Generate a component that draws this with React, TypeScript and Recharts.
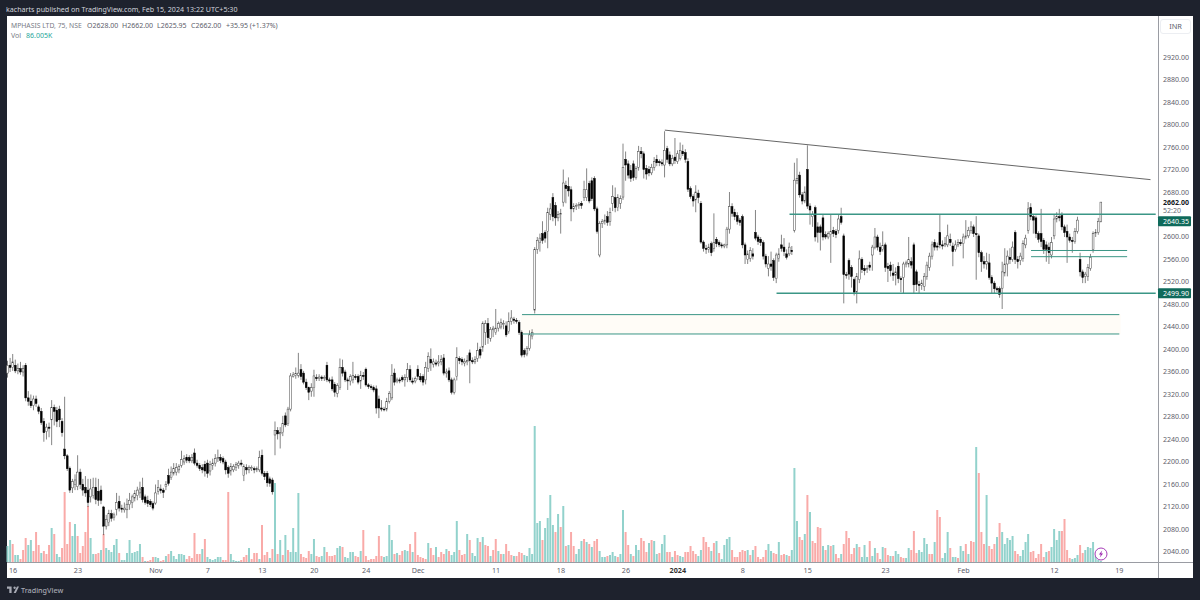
/**
 * App.tsx — MPHASIS 75 min candles with volume, drawn with a recharts ComposedChart.
 */
import { Bar, Cell, ComposedChart, ReferenceArea, ReferenceLine, XAxis, YAxis } from "recharts";

const opens = [
  2358,2372,2368,2372,2362,2366,2360,2372,2314,2308,2300,2312,2298,2290,2272,2254,2262,2275,2297,2292,
  2294,2272,2223,2211,2189,2154,2160,2156,2182,2160,2155,2150,2138,2140,2155,2148,2150,2120,2086,2092,
  2108,2102,2116,2130,2118,2115,2115,2124,2128,2136,2140,2145,2155,2138,2132,2130,2126,2127,2148,2152,
  2150,2156,2176,2172,2180,2182,2186,2194,2200,2208,2208,2202,2216,2198,2194,2190,2196,2198,2184,2194,
  2198,2206,2208,2206,2200,2190,2184,2186,2190,2194,2198,2176,2190,2186,2188,2188,2186,2186,2212,2180,
  2180,2170,2168,2248,2256,2250,2252,2282,2268,2294,2352,2354,2354,2364,2358,2342,2332,2326,2332,2350,
  2348,2351,2348,2372,2346,2346,2338,2322,2332,2368,2360,2346,2344,2346,2352,2352,2344,2354,2365,2337,
  2334,2332,2330,2312,2296,2294,2294,2308,2314,2358,2344,2346,2350,2346,2350,2364,2344,2344,2365,2352,
  2352,2346,2366,2382,2374,2376,2376,2378,2385,2358,2362,2346,2324,2352,2384,2382,2376,2378,2394,2380,
  2378,2384,2400,2404,2430,2446,2420,2435,2430,2438,2440,2444,2442,2432,2450,2454,2452,2448,2430,2398,
  2392,2402,2424,2470,2578,2590,2606,2608,2610,2640,2670,2656,2634,2640,2662,2692,2690,2684,2650,2654,
  2656,2660,2670,2670,2695,2700,2704,2650,2568,2624,2628,2636,2628,2660,2670,2652,2660,2671,2738,2730,
  2718,2730,2706,2724,2752,2748,2722,2720,2714,2724,2738,2734,2732,2728,2757,2746,2730,2742,2734,2740,
  2752,2750,2734,2686,2672,2666,2678,2660,2591,2580,2578,2588,2580,2596,2590,2586,2584,2586,2614,2654,2644,
  2638,2630,2636,2586,2560,2562,2570,2608,2600,2596,2590,2566,2544,2552,2558,2526,2562,2586,2582,2570,
  2570,2576,2612,2700,2710,2675,2664,2720,2655,2636,2652,2618,2618,2634,2604,2600,2604,2612,2610,
  2612,2636,2602,2533,2558,2546,2524,2502,2524,2560,2544,2542,2550,2568,2582,2600,2582,2578,2586,2548,
  2550,2536,2532,2548,2526,2528,2552,2552,2556,2586,2538,2516,2514,2512,2530,2546,2566,2590,2584,2608,2586,
  2586,2586,2596,2584,2578,2586,2590,2588,2600,2602,2612,2618,2606,2602,2572,2556,2552,2554,2528,2518,
  2508,2508,2509,2536,2552,2564,2560,2608,2560,2558,2562,2586,2612,2652,2636,2634,2606,2606,2594,2586,
  2582,2568,2602,2632,2636,2638,2618,2610,2600,2594,2592,2610,2560,2538,2530,2530,2544,2578,2606,2608,2628,
];

const highs = [
  2380,2385,2392,2382,2375,2378,2372,2376,2326,2320,2318,2318,2302,2296,2278,2268,2270,2310,2302,2298,
  2300,2278,2316,2214,2192,2170,2178,2212,2188,2170,2175,2170,2170,2172,2172,2170,2158,2122,2106,2115,
  2115,2110,2145,2140,2124,2128,2135,2145,2142,2150,2156,2165,2172,2142,2140,2134,2130,2160,2168,2160,
  2154,2166,2188,2192,2198,2198,2196,2220,2212,2214,2212,2214,2224,2204,2198,2196,2202,2204,2202,2206,
  2214,2222,2214,2210,2204,2194,2198,2196,2200,2202,2204,2196,2196,2194,2194,2192,2192,2220,2222,2184,
  2184,2174,2172,2272,2262,2262,2282,2288,2298,2358,2360,2368,2394,2374,2362,2348,2334,2340,2364,2356,
  2356,2354,2354,2378,2350,2352,2342,2340,2384,2382,2364,2350,2356,2378,2356,2356,2362,2360,2368,2340,
  2338,2336,2336,2318,2310,2298,2314,2326,2374,2366,2350,2350,2354,2356,2376,2372,2350,2352,2372,2358,
  2356,2378,2395,2402,2384,2382,2390,2390,2392,2366,2368,2350,2350,2404,2388,2386,2384,2390,2400,2386,
  2388,2412,2405,2450,2452,2456,2440,2442,2472,2450,2455,2452,2450,2466,2470,2458,2456,2452,2434,2402,
  2406,2434,2436,2582,2600,2606,2628,2612,2652,2660,2678,2662,2646,2650,2720,2700,2706,2690,2660,2660,
  2662,2664,2700,2722,2700,2706,2708,2654,2628,2632,2640,2646,2652,2692,2688,2676,2674,2766,2752,2736,
  2728,2736,2726,2762,2760,2752,2728,2726,2730,2742,2746,2738,2738,2788,2762,2752,2746,2776,2754,2768,
  2764,2756,2740,2690,2676,2692,2684,2664,2594,2586,2588,2592,2642,2600,2594,2590,2588,2618,2680,2660,2650,
  2644,2634,2640,2590,2576,2582,2580,2648,2604,2600,2594,2570,2566,2574,2562,2572,2580,2604,2598,2578,
  2590,2584,2732,2740,2716,2680,2690,2763,2660,2646,2656,2626,2622,2640,2610,2610,2640,2618,2614,
  2640,2652,2606,2538,2562,2550,2528,2536,2576,2564,2550,2550,2556,2586,2616,2604,2590,2610,2590,2554,
  2556,2552,2546,2555,2530,2556,2558,2600,2564,2590,2542,2522,2524,2536,2556,2572,2592,2596,2590,2639,2594,
  2600,2622,2606,2590,2594,2596,2596,2606,2630,2618,2628,2622,2637,2606,2576,2566,2572,2570,2532,2522,
  2512,2512,2556,2580,2576,2580,2592,2612,2566,2572,2594,2604,2662,2660,2640,2638,2610,2650,2598,2592,
  2590,2600,2640,2644,2650,2644,2622,2622,2606,2600,2616,2636,2572,2542,2538,2552,2570,2610,2614,2634,2662,
];

const lows = [
  2350,2360,2362,2358,2356,2355,2352,2308,2300,2296,2292,2298,2285,2266,2236,2240,2244,2230,2265,2262,
  2262,2245,2205,2184,2145,2145,2150,2150,2152,2140,2138,2120,2128,2135,2125,2122,2125,2070,2080,2086,
  2094,2096,2105,2112,2110,2110,2100,2115,2118,2130,2132,2136,2128,2124,2120,2120,2114,2124,2142,2144,
  2136,2150,2158,2168,2176,2176,2180,2190,2195,2198,2198,2198,2194,2190,2184,2180,2174,2172,2176,2186,
  2192,2200,2198,2196,2178,2172,2176,2182,2184,2188,2192,2166,2178,2180,2184,2180,2182,2182,2176,2168,
  2156,2156,2142,2212,2240,2224,2246,2262,2264,2290,2350,2348,2350,2346,2338,2328,2310,2316,2316,2344,
  2344,2344,2344,2342,2340,2326,2316,2315,2328,2352,2342,2328,2336,2340,2346,2338,2330,2346,2334,2330,
  2328,2324,2286,2278,2290,2290,2290,2304,2310,2336,2340,2340,2342,2334,2342,2342,2338,2340,2346,2342,
  2336,2338,2360,2362,2368,2370,2370,2372,2354,2350,2342,2320,2320,2345,2374,2372,2370,2372,2340,2374,
  2374,2378,2384,2396,2408,2410,2414,2422,2426,2432,2436,2436,2422,2428,2444,2446,2446,2426,2386,2386,
  2388,2398,2418,2464,2570,2574,2588,2590,2580,2630,2628,2620,2628,2606,2654,2660,2672,2628,2644,2648,
  2650,2650,2664,2664,2660,2664,2646,2606,2564,2616,2622,2620,2620,2646,2644,2646,2650,2666,2700,2704,
  2698,2700,2702,2718,2740,2704,2702,2708,2710,2718,2726,2726,2726,2706,2732,2726,2726,2730,2730,2736,
  2744,2732,2680,2668,2654,2644,2660,2588,2574,2570,2572,2566,2574,2582,2582,2580,2580,2580,2606,2636,2630,
  2622,2620,2580,2552,2552,2556,2560,2594,2586,2584,2560,2546,2530,2540,2522,2518,2556,2574,2566,2560,
  2566,2568,2608,2694,2670,2658,2660,2650,2622,2618,2592,2590,2576,2594,2596,2596,2554,2600,2598,
  2606,2622,2482,2526,2524,2510,2496,2482,2518,2536,2532,2536,2540,2540,2578,2576,2568,2574,2538,2520,
  2530,2522,2514,2518,2502,2500,2546,2546,2544,2500,2504,2500,2506,2504,2524,2540,2560,2576,2576,2580,2578,
  2582,2582,2584,2548,2574,2582,2584,2562,2596,2598,2606,2600,2524,2564,2538,2544,2542,2524,2500,2500,
  2502,2492,2472,2530,2530,2552,2556,2552,2544,2550,2556,2580,2606,2630,2606,2598,2590,2582,2570,2556,
  2552,2562,2596,2626,2628,2612,2600,2554,2590,2572,2588,2606,2530,2518,2518,2522,2540,2572,2600,2604,2625.95,
];

const closes = [
  2372,2368,2378,2362,2366,2360,2366,2314,2308,2300,2312,2304,2290,2270,2252,2262,2260,2297,2290,2272,
  2275,2252,2211,2188,2150,2165,2168,2182,2160,2150,2145,2128,2152,2155,2133,2132,2132,2086,2098,2108,
  2100,2106,2128,2118,2116,2118,2125,2132,2138,2144,2150,2152,2133,2128,2126,2124,2118,2145,2155,2149,
  2146,2160,2162,2182,2188,2190,2192,2204,2206,2203,2202,2208,2198,2194,2188,2186,2184,2180,2196,2198,
  2206,2208,2203,2200,2186,2180,2192,2192,2196,2198,2196,2192,2186,2190,2190,2186,2188,2208,2180,2174,
  2163,2162,2147,2256,2250,2252,2268,2266,2294,2353,2355,2357,2358,2352,2342,2332,2324,2332,2353,2348,
  2351,2348,2350,2346,2344,2330,2324,2336,2368,2358,2346,2344,2352,2354,2350,2342,2354,2352,2337,2334,
  2332,2328,2296,2296,2294,2293,2308,2322,2354,2342,2346,2344,2346,2350,2364,2346,2342,2348,2352,2346,
  2342,2368,2388,2376,2378,2374,2378,2382,2358,2360,2346,2324,2346,2386,2380,2378,2379,2380,2380,2378,
  2382,2398,2390,2446,2446,2421,2436,2438,2438,2446,2448,2446,2426,2450,2456,2452,2450,2430,2390,2391,
  2402,2426,2430,2578,2594,2598,2594,2598,2644,2650,2636,2634,2640,2642,2696,2686,2682,2650,2654,2656,
  2658,2656,2684,2684,2664,2668,2650,2610,2624,2628,2630,2626,2644,2672,2652,2670,2668,2724,2728,2710,
  2704,2706,2722,2752,2748,2720,2712,2714,2724,2734,2732,2732,2730,2754,2738,2730,2740,2736,2748,2754,
  2748,2738,2685,2672,2664,2680,2670,2591,2580,2578,2582,2572,2590,2588,2586,2584,2586,2614,2654,2642,2636,
  2628,2626,2586,2568,2570,2576,2566,2598,2592,2590,2566,2552,2552,2548,2528,2568,2570,2580,2574,2564,
  2582,2574,2701,2704,2675,2664,2680,2655,2648,2640,2600,2608,2608,2600,2600,2606,2610,2606,2604,
  2632,2626,2533,2532,2534,2530,2502,2530,2561,2542,2540,2544,2546,2582,2600,2582,2574,2585,2546,2544,
  2540,2532,2538,2526,2524,2552,2554,2560,2550,2515,2516,2514,2518,2530,2550,2566,2586,2582,2582,2586,2584,
  2588,2602,2590,2574,2586,2590,2588,2600,2602,2612,2618,2606,2604,2572,2556,2552,2556,2528,2518,2508,
  2506,2498,2538,2552,2566,2560,2582,2560,2556,2566,2588,2598,2650,2636,2630,2606,2596,2592,2578,2578,
  2572,2590,2632,2636,2634,2618,2608,2600,2594,2592,2610,2630,2538,2528,2534,2546,2564,2606,2608,2628,2662,
];

// volume in tens of thousands, g / r = the bar's colour in the picture
const volumes = [
  16,22,18,7,7,3,12,24,17,22,11,30,17,9,11,8,17,34,28,8,
  5,14,70,18,40,26,38,26,9,16,30,56,24,8,8,9,12,28,14,12,
  10,17,23,9,2,2,9,22,9,10,11,18,5,1,1,2,5,5,4,1,
  2,6,8,11,6,3,8,8,7,3,6,4,29,8,8,13,23,5,3,2,
  3,5,5,2,2,70,8,2,1,1,2,5,7,14,3,9,9,3,37,7,
  10,4,13,79,8,22,7,27,12,10,34,10,69,8,5,4,11,8,23,6,
  5,6,15,10,6,6,7,14,16,15,5,4,10,10,6,5,11,32,6,2,
  3,3,6,26,6,5,6,37,22,8,9,7,11,12,11,18,10,30,7,5,
  4,3,19,14,7,15,5,10,8,13,11,7,10,41,12,7,8,28,22,9,
  6,24,20,25,17,16,6,12,23,11,8,8,18,11,7,6,6,10,9,7,
  6,14,8,136,39,41,22,34,44,67,37,30,48,35,56,16,17,30,16,8,
  13,21,23,20,18,15,21,23,11,5,5,6,7,10,6,5,8,52,30,17,
  8,6,17,12,24,21,10,19,22,21,8,9,18,27,10,10,5,11,7,6,
  5,10,10,16,11,8,6,12,25,20,15,11,19,21,9,3,17,23,25,12,
  5,5,10,12,11,12,7,12,16,5,3,5,12,18,11,9,8,20,7,8,
  7,6,12,94,41,25,22,28,67,50,21,19,35,34,16,12,17,16,17,8,
  4,8,18,31,24,8,14,18,15,5,17,5,21,6,14,9,3,15,14,7,
  6,6,11,8,5,4,4,14,12,31,9,12,10,24,18,8,8,20,52,45,
  4,9,30,14,5,5,4,16,11,18,8,21,20,115,89,30,18,67,16,13,
  18,25,39,30,18,24,22,26,11,8,6,12,20,28,10,11,4,8,18,5,
  10,11,15,33,22,31,31,43,12,4,3,4,7,17,9,12,15,14,20,6,
  2,1,
];

const volumeSides =
  "ggrggrrrggrrrgrrrgrg" + "grrrrggrrrrrggrrgrgg" + "gggrggggggggrgrrrggr" + "rgrggggggrrrrrrgrggg" +
  "gggrrrggggrrrgrrrgrr" + "rgrgrgrgrggggrrrrggr" + "rggrrrrggrggggrrgrrr" + "rrrrrggggrgrrggrgrrr" +
  "rrgrrgrrrgrgggrrrgrg" + "ggrgrrgrrgrgrrrgrrrg" + "ggggggrggggrgrgrgrrg" + "ggrgrgrrgggrgggrggrr" +
  "grggrrrgrggrggrrgrrg" + "grrrrrggrrrgrgrggggr" + "rrrrrgrgrrrrrggrrgrr" + "grgggrrgrgrrrrgrgrgr" +
  "rgrrrrrgrgggrggrrgrr" + "grggrrggrrrggggrrgrr" + "gggrggrggrgrrgrrrgrr" + "rgrgggggrrggggrrrrrr" +
  "grggggrrrrgggrrggggg" + "gg";

const xTickIndexes = [2, 27, 57, 77, 98, 118, 138, 158, 188, 213, 238, 258, 283, 308, 338, 368, 403, 428];
const xTickLabels = ["16", "23", "Nov", "7", "13", "20", "24", "Dec", "11", "18", "26", "2024", "8", "15", "23", "Feb", "12", "19"];

const priceTicks = [
  2920, 2880, 2840, 2800, 2760, 2720, 2680, 2662, 2640.35, 2600, 2560, 2520, 2499.9, 2480, 2440, 2400,
  2360, 2320, 2280, 2240, 2200, 2160, 2120, 2080, 2040,
];

const legendValues = ["O2628.00", "H2662.00", "L2625.95", "C2662.00", "+35.95 (+1.37%)"];
const legendLefts = [87, 122, 157, 191, 226];

const SLOTS = 443; // bars plus the empty space right of the last one
const UP_VOL = "#92d2cc";
const DOWN_VOL = "#f9aaa8";
const LINE_GREEN = "#3b9686";
const TAG_GREEN = "#0f6a5b";
const FONT = '"Noto Sans", sans-serif';

const rows = Array.from({ length: SLOTS }, (_, i) => ({
  idx: i,
  range: i < opens.length ? [lows[i], highs[i]] : null,
  open: opens[i],
  close: closes[i],
  high: highs[i],
  low: lows[i],
  volume: i < volumes.length ? volumes[i] : null,
}));

function Candle(props: any) {
  const { x, y, width, height, payload } = props;
  if (payload?.range == null) return null;
  const top = Math.min(y, y + height);
  const span = Math.abs(height);
  const unit = span / Math.max(payload.high - payload.low, 0.01);
  const cx = x + width / 2;
  const up = payload.close >= payload.open;
  const bodyTop = top + (payload.high - Math.max(payload.open, payload.close)) * unit;
  const bodyH = Math.max(Math.abs(payload.close - payload.open) * unit, 0.8);
  return (
    <g>
      <line x1={cx} x2={cx} y1={top} y2={top + span} stroke="#333" strokeWidth={0.6} />
      <rect
        x={x + 0.1}
        y={bodyTop}
        width={width - 0.2}
        height={bodyH}
        fill={up ? "#fff" : "#000"}
        stroke={up ? "#444" : "#000"}
        strokeWidth={0.5}
      />
    </g>
  );
}

function PriceTick(props: any) {
  const { x, y, payload } = props;
  const v = payload.value;
  if (v === 2662) {
    return (
      <g fontFamily={FONT} fontSize={7}>
        <text x={x} y={y + 2.5} fill="#131722" fontWeight={700}>2662.00</text>
        <text x={x} y={y + 11} fill="#6a6d78">52:20</text>
      </g>
    );
  }
  if (v === 2640.35 || v === 2499.9) {
    const cy = v === 2640.35 ? y + 7 : y;
    return (
      <g fontFamily={FONT} fontSize={7}>
        <rect x={x - 5} y={cy - 5} width={33} height={10} fill={TAG_GREEN} rx={1} />
        <text x={x} y={cy + 2.5} fill="#fff">{v.toFixed(2)}</text>
      </g>
    );
  }
  return (
    <text x={x} y={y + 2.5} fontFamily={FONT} fontSize={7} fill="#5d606b">
      {v.toFixed(2)}
    </text>
  );
}

function TimeTick(props: any) {
  const { x, y, payload } = props;
  const label = xTickLabels[xTickIndexes.indexOf(payload.value)];
  const bold = label === "2024";
  return (
    <text
      x={x}
      y={y + 2.5}
      textAnchor="middle"
      fontFamily={FONT}
      fontSize={7.2}
      fontWeight={bold ? 700 : 400}
      fill={bold ? "#333" : "#5d606b"}
    >
      {label}
    </text>
  );
}

const legendText = { position: "absolute", top: 21, fontSize: 7, fontFamily: FONT, color: "#5d606b", whiteSpace: "nowrap" } as const;

export default function App() {
  return (
    <div style={{ position: "absolute", left: 0, top: 0, width: 1200, height: 600, background: "#1e222d", overflow: "hidden" }}>
      <div style={{ position: "absolute", left: 7, top: 16, width: 1186, height: 562, background: "#fff" }} />
      <div style={{ position: "absolute", left: 1158, top: 16, width: 1, height: 562, background: "#9a9ca3" }} />
      <div style={{ position: "absolute", left: 7, top: 562, width: 1186, height: 1, background: "#9a9ca3" }} />

      <div style={{ position: "absolute", left: 0, top: 0 }}>
        <ComposedChart width={1200} height={600} data={rows} margin={{ top: 16, right: 0, bottom: 22, left: 6.5 }} barGap={0}>
          <XAxis
            xAxisId="p"
            dataKey="idx"
            ticks={xTickIndexes}
            interval={0}
            height={16}
            axisLine={false}
            tickLine={false}
            tick={<TimeTick />}
          />
          <XAxis xAxisId="v" dataKey="idx" hide />
          <YAxis
            yAxisId="p"
            orientation="right"
            type="number"
            domain={[2022.2, 2992.9]}
            allowDataOverflow
            ticks={priceTicks}
            interval={0}
            width={43}
            tickMargin={0}
            axisLine={false}
            tickLine={false}
            tick={<PriceTick />}
          />
          <YAxis yAxisId="v" type="number" domain={[0, 546]} hide />

          <ReferenceArea xAxisId="p" yAxisId="p" x1={198} x2={428} y1={2427.6} y2={2462} fill="#fffcf7" fillOpacity={1} stroke="none" />
          <ReferenceLine xAxisId="p" yAxisId="p" segment={[{ x: 198, y: 2462 }, { x: 428, y: 2462 }]} stroke={LINE_GREEN} strokeWidth={1} />
          <ReferenceLine xAxisId="p" yAxisId="p" segment={[{ x: 198, y: 2427.6 }, { x: 428, y: 2427.6 }]} stroke={LINE_GREEN} strokeWidth={1} />
          <ReferenceLine xAxisId="p" yAxisId="p" segment={[{ x: 394, y: 2576 }, { x: 431, y: 2576 }]} stroke={LINE_GREEN} strokeWidth={1} />
          <ReferenceLine xAxisId="p" yAxisId="p" segment={[{ x: 394, y: 2565 }, { x: 431, y: 2565 }]} stroke={LINE_GREEN} strokeWidth={1} />

          <Bar xAxisId="v" yAxisId="v" dataKey="volume" barSize={2} isAnimationActive={false}>
            {rows.map((r) => (
              <Cell key={r.idx} fill={volumeSides[r.idx] === "g" ? UP_VOL : DOWN_VOL} />
            ))}
          </Bar>
          <Bar
            xAxisId="p"
            yAxisId="p"
            dataKey="range"
            barSize={2}
            isAnimationActive={false}
            shape={(p: any) => <Candle {...p} />}
          />

          <ReferenceLine xAxisId="p" yAxisId="p" segment={[{ x: 253, y: 2790 }, { x: 440, y: 2702 }]} stroke="#555" strokeWidth={0.9} />
          <ReferenceLine xAxisId="p" yAxisId="p" segment={[{ x: 301, y: 2640.35 }, { x: 442, y: 2640.35 }]} stroke={LINE_GREEN} strokeWidth={1.5} />
          <ReferenceLine xAxisId="p" yAxisId="p" segment={[{ x: 296, y: 2499.9 }, { x: 442, y: 2499.9 }]} stroke={LINE_GREEN} strokeWidth={1.5} />
        </ComposedChart>
      </div>

      <div style={{ position: "absolute", left: 6, top: 3, fontSize: 7.1, lineHeight: "12px", fontFamily: FONT, color: "#d1d4dc", whiteSpace: "nowrap" }}>
        kacharts published on TradingView.com, Feb 15, 2024 13:22 UTC+5:30
      </div>

      <span style={{ ...legendText, left: 11, fontSize: 6.8, color: "#787b86" }}>MPHASIS LTD, 75, NSE</span>
      {legendValues.map((t, i) => (
        <span key={t} style={{ ...legendText, left: legendLefts[i] }}>{t}</span>
      ))}
      <span style={{ ...legendText, top: 31, left: 11, color: "#787b86" }}>Vol</span>
      <span style={{ ...legendText, top: 31, left: 26, color: "#26a69a" }}>86.005K</span>

      <div
        style={{
          position: "absolute", left: 1160, top: 19, width: 31, height: 15, boxSizing: "border-box",
          border: "1px solid #eceef2", borderRadius: 3, background: "#fff", textAlign: "center",
          fontSize: 7.4, lineHeight: "13px", fontFamily: FONT, color: "#5d606b",
        }}
      >
        INR
      </div>

      <svg style={{ position: "absolute", left: 1093, top: 546 }} width={16} height={16}>
        <circle cx={8} cy={8} r={6} fill="#fff" stroke="#9c27b0" strokeWidth={0.9} />
        <path d="M9.2 4.6 L5.9 8.6 H7.8 L6.8 11.4 L10.1 7.4 H8.2 Z" fill="#9c27b0" />
      </svg>

      <svg style={{ position: "absolute", left: 7, top: 586 }} width={12} height={8}>
        <path d="M0 0.5 H4.6 V7 H2.3 V2.8 H0 Z M7.6 0.5 a1.2 1.2 0 1 0 0.01 0 Z M10 0.5 H12 L8.8 7 H6.6 Z" fill="#a6a9b3" />
      </svg>
      <div style={{ position: "absolute", left: 21, top: 584, fontSize: 7.2, lineHeight: "12px", fontWeight: 500, fontFamily: FONT, color: "#a6a9b3" }}>
        TradingView
      </div>
    </div>
  );
}
